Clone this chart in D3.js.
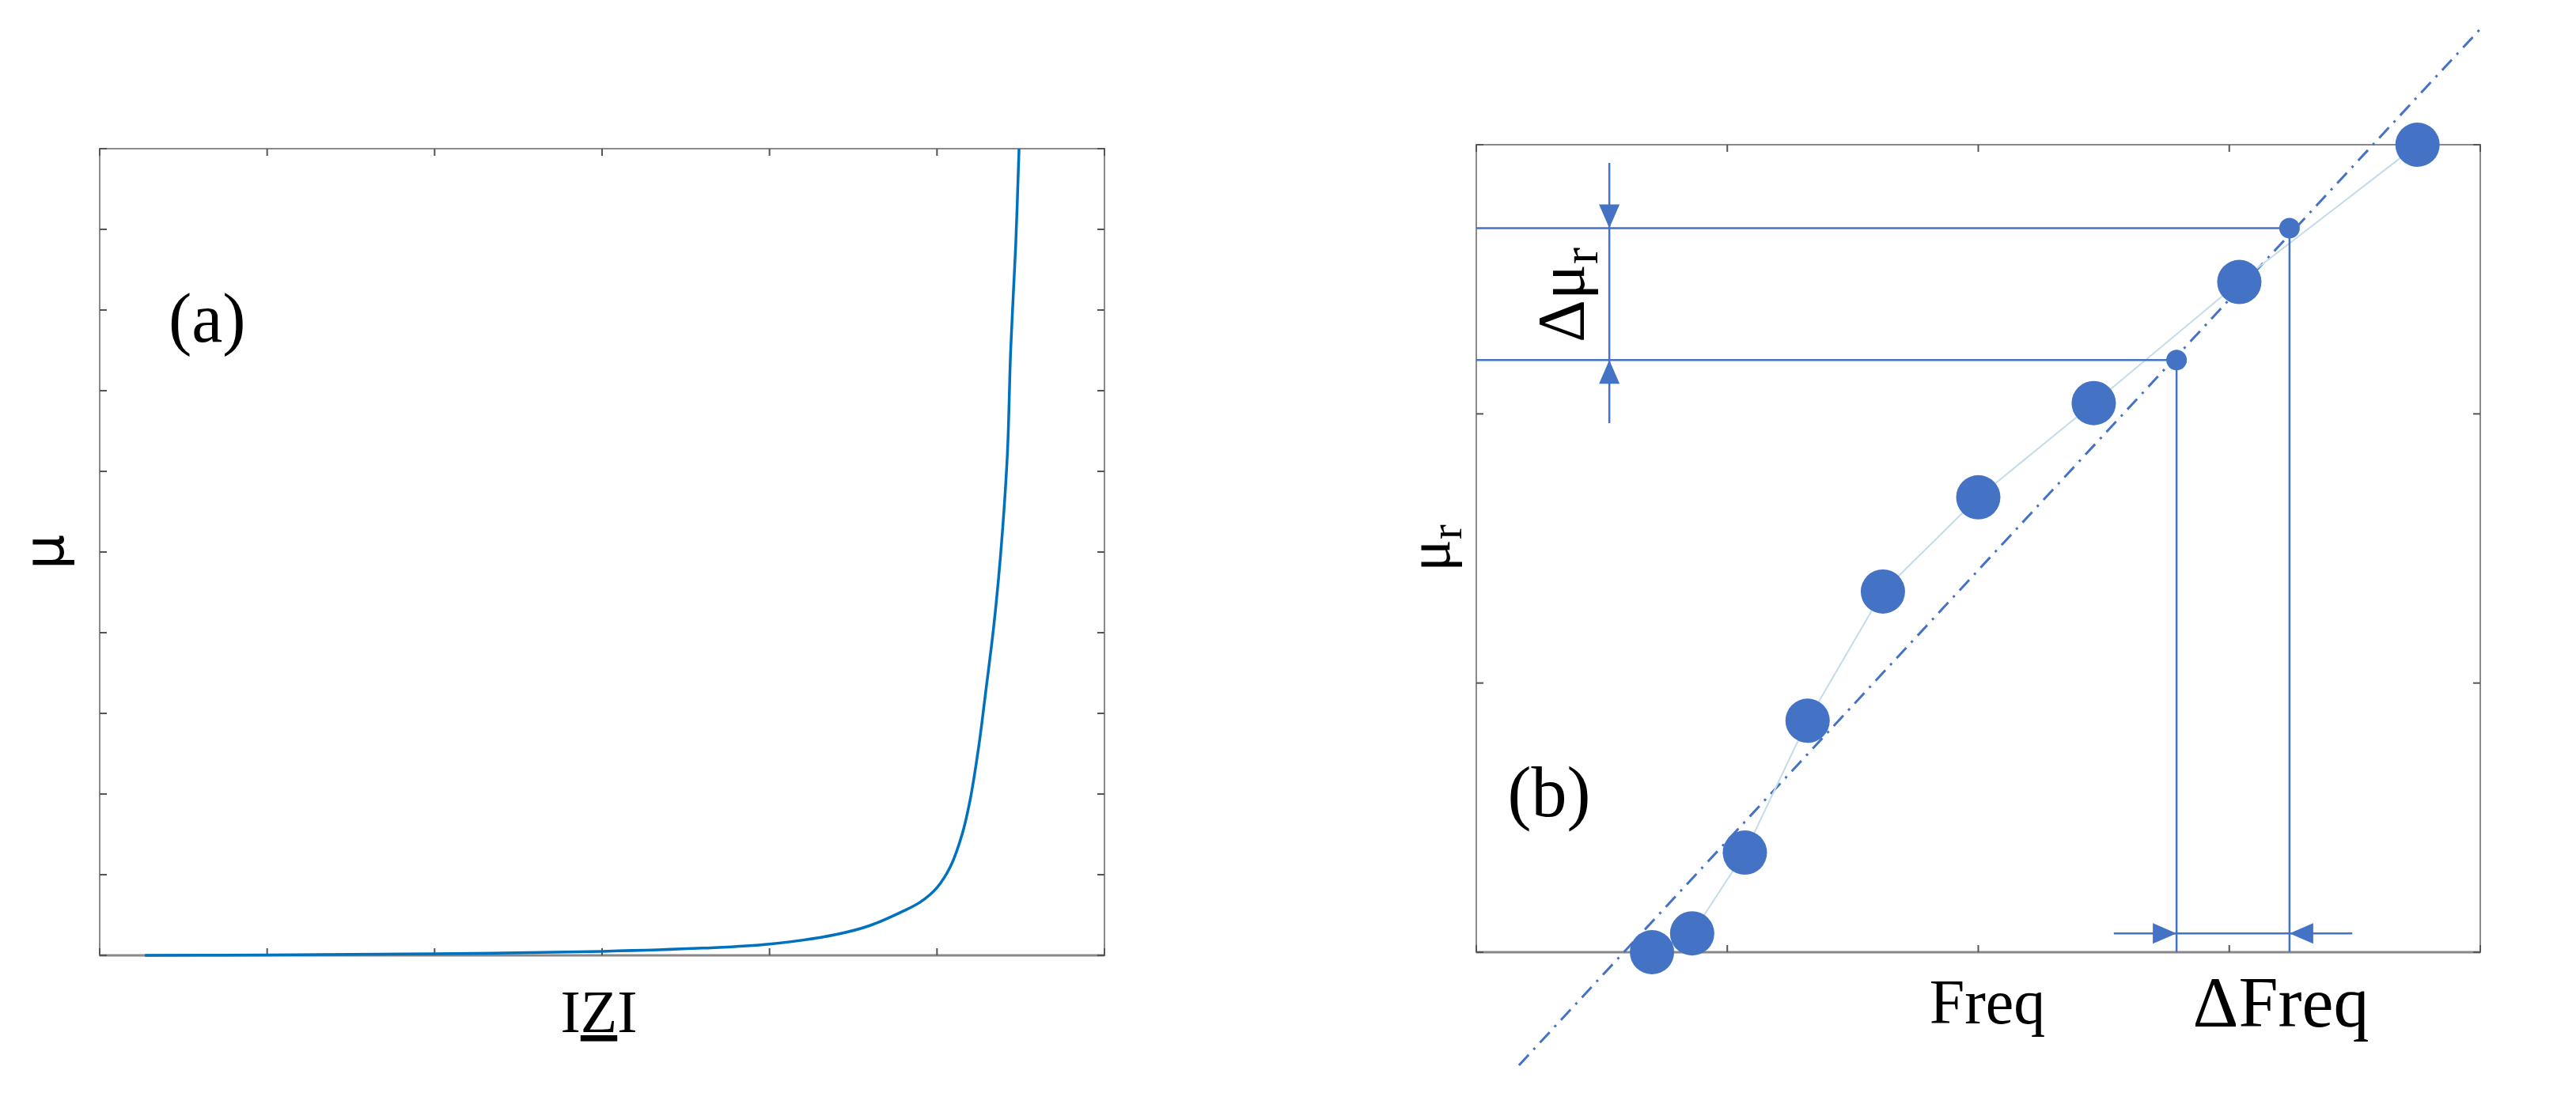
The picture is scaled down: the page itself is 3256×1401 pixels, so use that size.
<!DOCTYPE html><html><head><meta charset="utf-8">
<script src="https://cdn.jsdelivr.net/npm/d3@7"></script>
<style>body{margin:0;background:#fff}</style></head><body>
<svg id="c" width="3256" height="1401"></svg>
<script>
// Panel (a): mu vs |Z|
const curveX = [0.27,1.0,2.0,3.0,3.6,4.0,4.4,4.6,4.8,4.9,5.0,5.08,5.15,5.2,5.25,5.29,5.34,5.38,5.42,5.44,5.47,5.49];
const curveY = [0,0.005,0.02,0.05,0.09,0.14,0.26,0.37,0.55,0.66,0.84,1.1,1.5,1.95,2.6,3.25,4.1,4.97,6.2,7.5,8.8,10];
// Panel (b): mu_r vs Freq
const ptsX = [0.70,0.86,1.07,1.32,1.62,2.00,2.46,3.04,3.75];
const ptsY = [0,0.07,0.37,0.86,1.34,1.69,2.04,2.49,3.0];
const fitX = [0.17,4.01], fitY = [-0.42,3.44];
const markX = [2.79,3.24], markY = [2.20,2.69];

const svg = d3.select("#c");
const blue="#0072BD", pblue="#4472C4", serif="'Liberation Serif','DejaVu Serif',serif";

function frame(g,x,y,nx,ny){
  const [x0,x1]=x.range(), [y0,y1]=y.range();
  g.append("rect").attr("x",x0).attr("y",y1).attr("width",x1-x0).attr("height",y0-y1)
   .attr("fill","none").attr("stroke","#8a8a8a").attr("stroke-width",2);
  g.append("line").attr("x1",x0).attr("x2",x1).attr("y1",y0).attr("y2",y0).attr("stroke","#888").attr("stroke-width",3);
  const tl=9;
  x.ticks(nx).forEach(t=>{const px=x(t);
    g.append("line").attr("x1",px).attr("x2",px).attr("y1",y0).attr("y2",y0-tl).attr("stroke","#555").attr("stroke-width",2);
    g.append("line").attr("x1",px).attr("x2",px).attr("y1",y1).attr("y2",y1+tl).attr("stroke","#555").attr("stroke-width",2);});
  y.ticks(ny).forEach(t=>{const py=y(t);
    g.append("line").attr("x1",x0).attr("x2",x0+tl).attr("y1",py).attr("y2",py).attr("stroke","#555").attr("stroke-width",2);
    g.append("line").attr("x1",x1).attr("x2",x1-tl).attr("y1",py).attr("y2",py).attr("stroke","#555").attr("stroke-width",2);});
}

// (a)
const xa=d3.scaleLinear().domain([0,6]).range([126,1396]);
const ya=d3.scaleLinear().domain([0,10]).range([1208,188]);
const ga=svg.append("g");
frame(ga,xa,ya,6,10);
ga.append("path").datum(curveX.map((v,i)=>[v,curveY[i]]))
  .attr("d",d3.line().x(d=>xa(d[0])).y(d=>ya(d[1])).curve(d3.curveCatmullRom.alpha(0.5)))
  .attr("fill","none").attr("stroke",blue).attr("stroke-width",3.5);
ga.append("text").attr("x",213).attr("y",432).attr("font-family",serif).attr("font-size",88).text("(a)");
ga.append("text").attr("transform","translate(80,698) rotate(-90)").attr("text-anchor","middle")
  .attr("font-family","'DejaVu Sans',sans-serif").attr("font-size",70).text("μ");
const za=ga.append("text").attr("x",757).attr("y",1305).attr("text-anchor","middle").attr("font-family",serif).attr("font-size",76);
za.append("tspan").text("I");za.append("tspan").attr("text-decoration","underline").text("Z");za.append("tspan").text("I");

// (b)
const xb=d3.scaleLinear().domain([0,4]).range([1866,3135]);
const yb=d3.scaleLinear().domain([0,3]).range([1204,183]);
const gb=svg.append("g");
frame(gb,xb,yb,4,3);
gb.append("line").attr("x1",xb(fitX[0])).attr("y1",yb(fitY[0])).attr("x2",xb(fitX[1])).attr("y2",yb(fitY[1]))
  .attr("stroke",pblue).attr("stroke-width",3).attr("stroke-dasharray","18,9,3,9");
gb.append("path").datum(ptsX.map((v,i)=>[v,ptsY[i]]))
  .attr("d",d3.line().x(d=>xb(d[0])).y(d=>yb(d[1]))).attr("fill","none").attr("stroke","#c4dce9").attr("stroke-width",2);
markX.forEach((mx,i)=>{
  gb.append("line").attr("x1",xb(0)).attr("x2",xb(mx)).attr("y1",yb(markY[i])).attr("y2",yb(markY[i])).attr("stroke",pblue).attr("stroke-width",2.5);
  gb.append("line").attr("x1",xb(mx)).attr("x2",xb(mx)).attr("y1",yb(markY[i])).attr("y2",yb(0)).attr("stroke",pblue).attr("stroke-width",2.5);
  gb.append("circle").attr("cx",xb(mx)).attr("cy",yb(markY[i])).attr("r",13).attr("fill",pblue);
});
gb.selectAll("circle.p").data(ptsX).join("circle").attr("class","p")
  .attr("cx",d=>xb(d)).attr("cy",(d,i)=>yb(ptsY[i])).attr("r",28).attr("fill",pblue);
// arrows
const ax=xb(0.53), ay0=yb(markY[1]), ay1=yb(markY[0]);
gb.append("line").attr("x1",ax).attr("x2",ax).attr("y1",206).attr("y2",535).attr("stroke",pblue).attr("stroke-width",2.5);
gb.append("path").attr("d",`M${ax-13},${ay0-30}L${ax+13},${ay0-30}L${ax},${ay0}Z`).attr("fill",pblue);
gb.append("path").attr("d",`M${ax-13},${ay1+30}L${ax+13},${ay1+30}L${ax},${ay1}Z`).attr("fill",pblue);
const by=yb(0.07), bx0=xb(markX[0]), bx1=xb(markX[1]);
gb.append("line").attr("x1",xb(2.54)).attr("x2",xb(3.49)).attr("y1",by).attr("y2",by).attr("stroke",pblue).attr("stroke-width",2.5);
gb.append("path").attr("d",`M${bx0-30},${by-13}L${bx0-30},${by+13}L${bx0},${by}Z`).attr("fill",pblue);
gb.append("path").attr("d",`M${bx1+30},${by-13}L${bx1+30},${by+13}L${bx1},${by}Z`).attr("fill",pblue);
// labels
const lab=(t,x,y,rot,fs,sub)=>{const e=gb.append("text").attr("transform",`translate(${x},${y}) rotate(${rot})`).attr("text-anchor","middle")
  .attr("font-family",serif).attr("font-size",fs);e.append("tspan").text(t);
  if(sub)e.append("tspan").attr("font-size",fs*0.75).attr("dy",fs*0.2).text(sub);};
lab("Δμ",2002,373,-90,84,"r");
lab("μ",1832,693,-90,76,"r");
lab("Freq",2512,1294,0,80);
lab("ΔFreq",2883,1298,0,90);
gb.append("text").attr("x",1958).attr("y",1032).attr("text-anchor","middle").attr("font-family",serif).attr("font-size",90).text("(b)");
</script></body></html>
